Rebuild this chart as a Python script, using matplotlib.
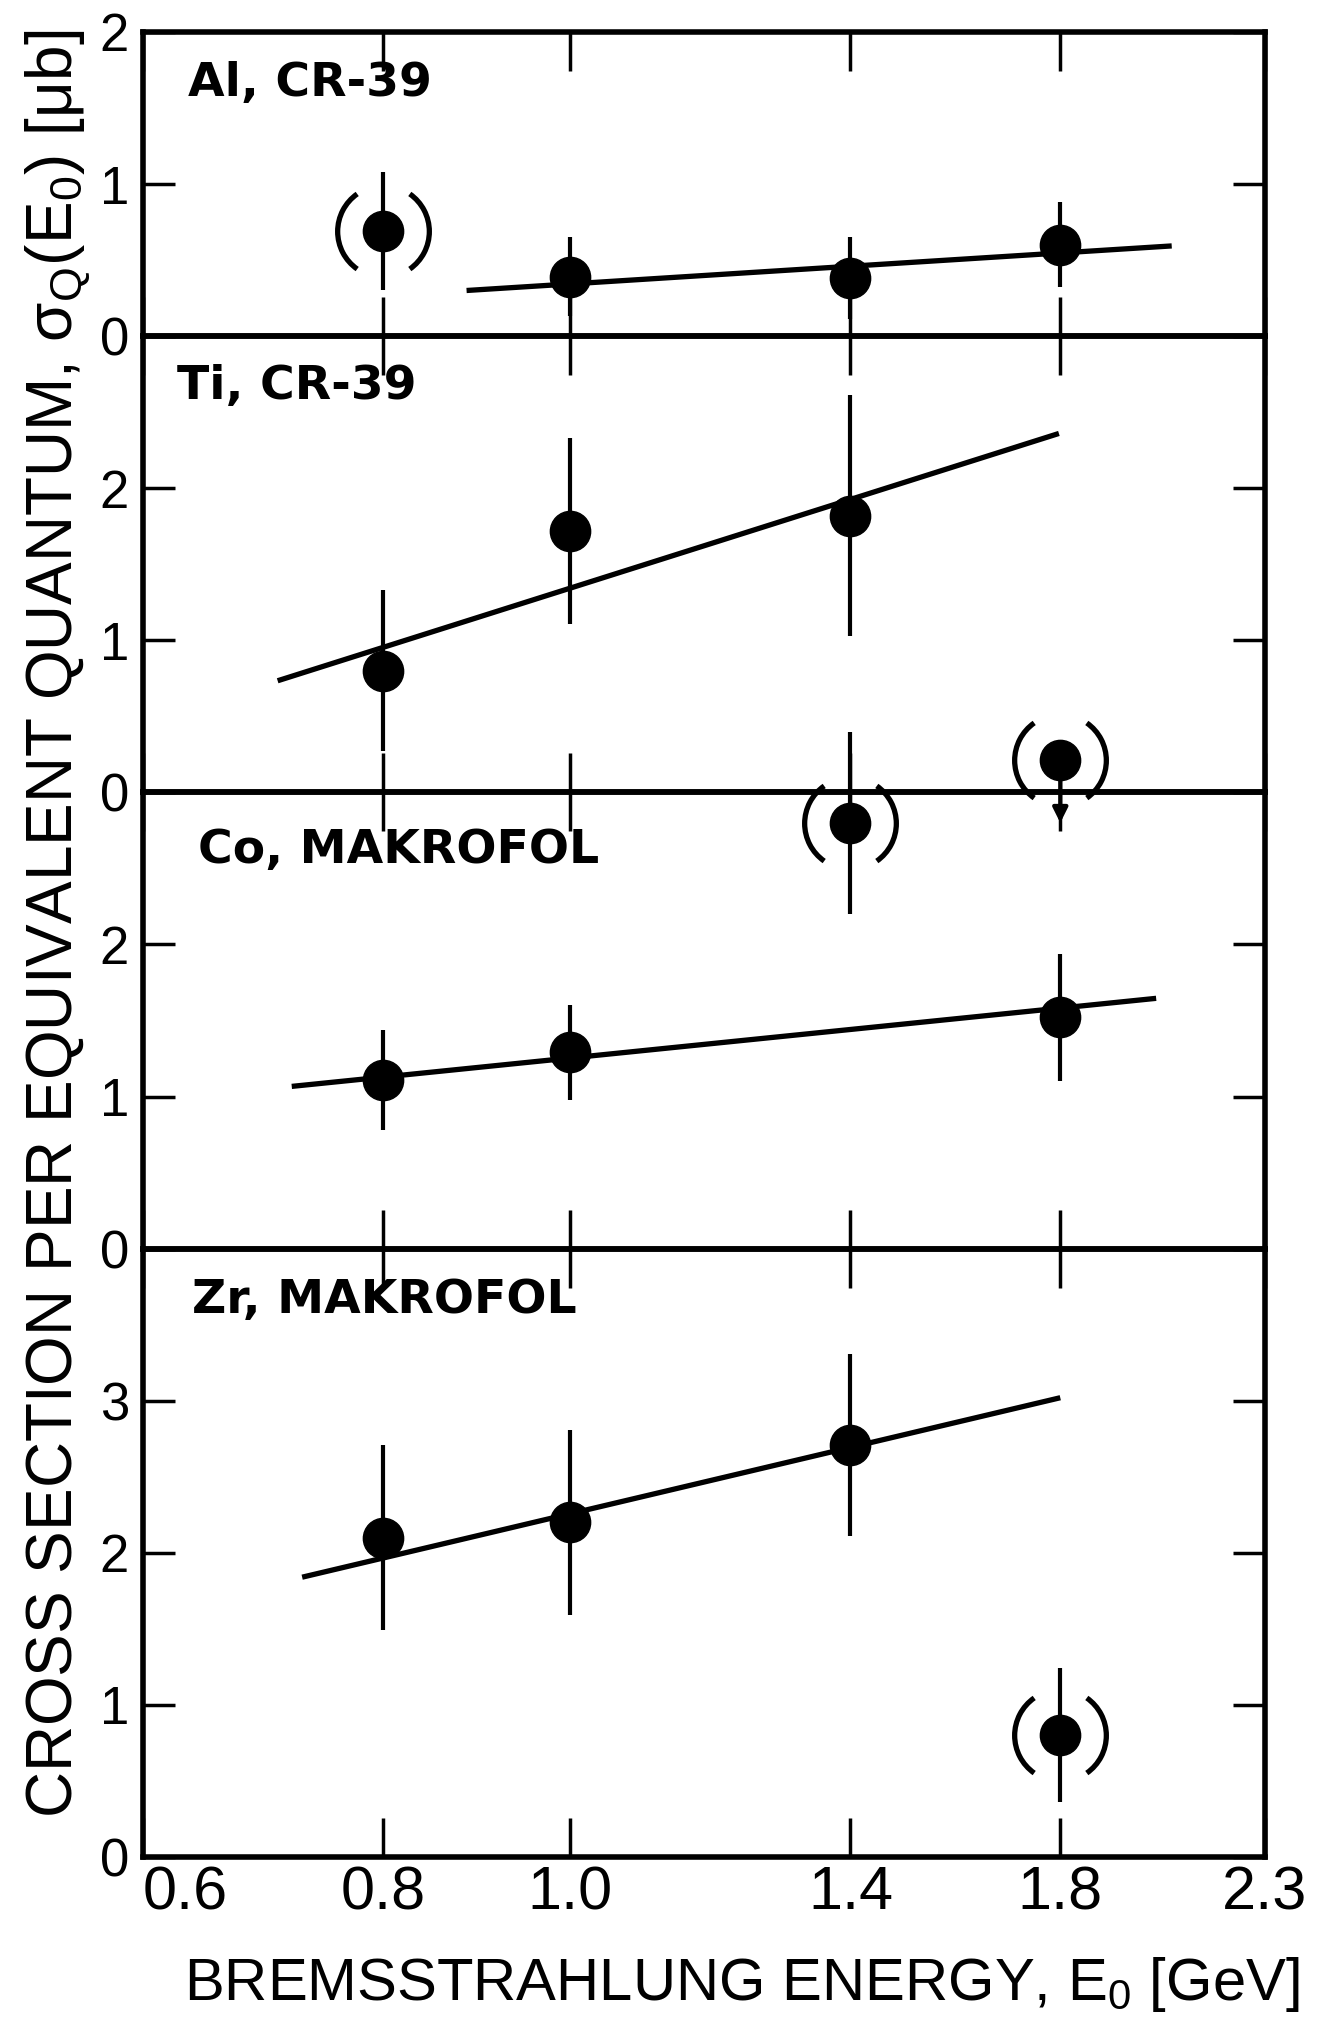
import numpy as np
import matplotlib
matplotlib.use("Agg")
import matplotlib.pyplot as plt
from matplotlib.path import Path
from matplotlib.ticker import FixedLocator, FixedFormatter, NullLocator, NullFormatter

plt.rcParams['font.family'] = ['Liberation Sans', 'DejaVu Sans']
plt.rcParams['mathtext.fontset'] = 'custom'
plt.rcParams['mathtext.rm'] = 'Liberation Sans'
plt.rcParams['mathtext.it'] = 'Liberation Sans:italic'

# ---------------- data ----------------
panel_labels = ["Al, CR-39", "Ti, CR-39", "Co, MAKROFOL", "Zr, MAKROFOL"]
y_tops = [2, 3, 3, 4]

energy = [0.8, 1.0, 1.4, 1.8]

al_sigma = [0.69, 0.39, 0.38, 0.60]
al_err = [0.39, 0.26, 0.27, 0.28]
al_paren = [True, False, False, False]
al_fit_x = [0.884, 2.057]
al_fit_y = [0.30, 0.593]

ti_sigma = [0.80, 1.72, 1.82, 0.21]
ti_err = [0.53, 0.61, 0.79, 0.0]
ti_paren = [False, False, False, True]
ti_fit_x = [0.705, 1.797]
ti_fit_y = [0.734, 2.36]
ti_limit_x = 1.8
ti_limit_from = 0.21
ti_limit_to = -0.20

co_sigma = [1.11, 1.29, 2.80, 1.52]
co_err = [0.33, 0.31, 0.60, 0.42]
co_paren = [False, False, True, False]
co_fit_x = [0.717, 2.019]
co_fit_y = [1.067, 1.646]

zr_sigma = [2.10, 2.20, 2.71, 0.80]
zr_err = [0.61, 0.61, 0.60, 0.44]
zr_paren = [False, False, False, True]
zr_fit_x = [0.726, 1.80]
zr_fit_y = [1.84, 3.02]

x_ticks = [0.6, 0.8, 1.0, 1.4, 1.8, 2.3]
x_tick_labels = ["0.6", "0.8", "1.0", "1.4", "1.8", "2.3"]

panels = [
    (al_sigma, al_err, al_paren, al_fit_x, al_fit_y),
    (ti_sigma, ti_err, ti_paren, ti_fit_x, ti_fit_y),
    (co_sigma, co_err, co_paren, co_fit_x, co_fit_y),
    (zr_sigma, zr_err, zr_paren, zr_fit_x, zr_fit_y),
]
label_pos = [(0.040, 0.830), (0.030, 0.890), (0.049, 0.873), (0.044, 0.915)]

# parentheses marker: two arcs around the point
paren_path = Path.make_compound_path(Path.arc(125, 235), Path.arc(-55, 55))

fig, axes = plt.subplots(4, 1, sharex=True, figsize=(13.24, 20.34), dpi=100,
                         gridspec_kw=dict(height_ratios=y_tops, hspace=0))
fig.subplots_adjust(left=0.108, right=0.9554, top=0.9843, bottom=0.0870)

for i, ax in enumerate(axes):
    sig, err, par, fx, fy = panels[i]
    sig = np.array(sig)
    err = np.array(err)
    par = np.array(par)
    xe = np.array(energy)
    ax.set_facecolor('none')
    ax.set_xscale('log')
    ax.set_xlim(0.6, 2.3)
    ax.set_ylim(0, y_tops[i])

    # fit line
    ax.plot(fx, fy, color='k', lw=3.8, solid_capstyle='butt', zorder=2)
    # error bars
    m = err > 0
    ax.vlines(xe[m], (sig - err)[m], (sig + err)[m], colors='k', lw=3.0,
              clip_on=False, zorder=3)
    # points
    ax.plot(xe, sig, 'o', ms=29, color='k', clip_on=False, zorder=4)
    # parentheses
    ax.plot(xe[par], sig[par], linestyle='none', marker=paren_path, ms=66,
            mfc='none', mec='k', mew=3.8, clip_on=False, zorder=4)

    ax.text(label_pos[i][0], label_pos[i][1], panel_labels[i], transform=ax.transAxes,
            ha='left', va='center', fontsize=34, fontweight='bold',
            family=['DejaVu Sans'])

    # ticks
    ax.xaxis.set_major_locator(FixedLocator(x_ticks))
    ax.xaxis.set_major_formatter(FixedFormatter(x_tick_labels))
    ax.xaxis.set_minor_locator(NullLocator())
    ax.xaxis.set_minor_formatter(NullFormatter())
    yt = list(range(0, y_tops[i] + 1))
    ylabels = [str(v) for v in yt]
    if i > 0:
        ylabels[-1] = ""
    ax.yaxis.set_major_locator(FixedLocator(yt))
    ax.yaxis.set_major_formatter(FixedFormatter(ylabels))
    ax.tick_params(axis='x', which='major', direction='in', top=True, bottom=True,
                   length=28, width=2.5, labelsize=44, pad=6)
    ax.tick_params(axis='y', which='major', direction='in', left=True, right=True,
                   length=23, width=2.5, labelsize=38, pad=10)
    for sp in ax.spines.values():
        sp.set_linewidth(4)

# upper-limit arrow in Ti panel
axes[1].annotate('', xy=(ti_limit_x, ti_limit_to), xytext=(ti_limit_x, ti_limit_from),
                 arrowprops=dict(arrowstyle='-|>', color='k', lw=3, mutation_scale=22,
                                 shrinkA=0, shrinkB=0),
                 annotation_clip=False, zorder=5)

labs = axes[-1].get_xticklabels()
labs[0].set_ha('left')

fig.text(58 / 1324, 1 - 924 / 2034,
         "CROSS SECTION PER EQUIVALENT QUANTUM, σ$_\\mathrm{Q}$(E$_\\mathrm{0}$) [μb]",
         rotation=90, ha='center', va='center', fontsize=46)
fig.text(742 / 1324, 1 - 1984 / 2034,
         "BREMSSTRAHLUNG ENERGY, E$_\\mathrm{0}$ [GeV]",
         ha='center', va='center', fontsize=43)

fig.savefig("out.png", dpi=100)
